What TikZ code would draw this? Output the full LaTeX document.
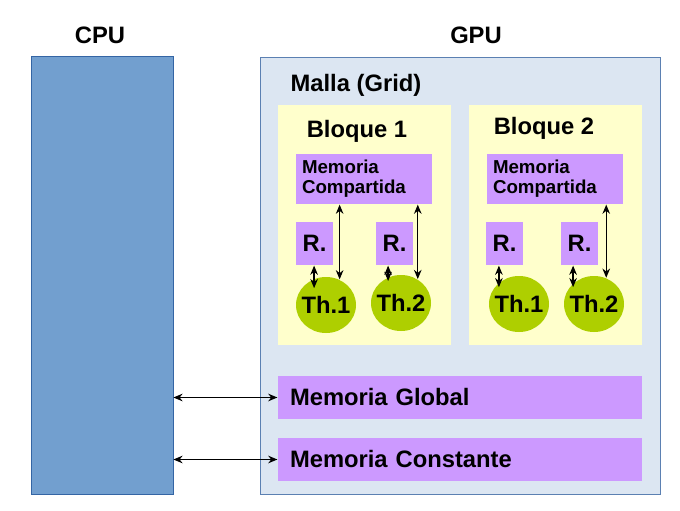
\documentclass[tikz,border=0pt]{standalone}
\usepackage{fontspec}
\setmainfont{Liberation Sans}
\usetikzlibrary{arrows.meta, positioning, calc, shapes.geometric}
\definecolor{ccpu}{HTML}{729FCF}
\definecolor{ccpuline}{HTML}{3465A4}
\definecolor{cgpu}{HTML}{DCE6F2}
\definecolor{cgpuline}{HTML}{5B80B2}
\definecolor{cyellow}{HTML}{FFFFCC}
\definecolor{cpurple}{HTML}{CC99FF}
\definecolor{cgreen}{HTML}{AECF00}
\tikzset{
  every picture/.style={line width=0.9pt},
  every node/.style={font=\bfseries\fontsize{16.9}{19}\selectfont},
  title/.style={inner sep=0pt},
  block/.style={fill=cyellow, minimum width=4.325cm, minimum height=6cm},
  shared/.style={fill=cpurple, minimum width=3.4cm, minimum height=1.25cm, text width=3.1cm,
    inner xsep=0.15cm, align=left, font=\bfseries\fontsize{13.3}{14.2}\selectfont},
  reg/.style={fill=cpurple, minimum width=0.925cm, minimum height=1.075cm, inner sep=0pt},
  thread/.style={ellipse, fill=cgreen, minimum width=1.5cm, minimum height=1.4cm, inner xsep=-0.1cm, inner ysep=0pt},
  memory/.style={fill=cpurple, minimum width=9.1cm, minimum height=1.075cm, text width=8.5cm,
    inner xsep=0.3cm, align=left},
  link/.style={{Stealth[length=2.3mm, width=1.9mm]}-{Stealth[length=2.3mm, width=1.9mm]}, draw=black},
}

\begin{document}
\begin{tikzpicture}
  \useasboundingbox (0,0) rectangle (17,12.75);
  % host and device
  \node[fill=ccpu, draw=ccpuline, line width=0.6pt, minimum width=3.55cm, minimum height=10.95cm] (cpu) at (2.55,5.875) {};
  \node[title] (cpulabel) at (2.5,11.875) {CPU};
  \node[fill=cgpu, draw=cgpuline, line width=0.6pt, minimum width=10cm, minimum height=10.925cm] (gpu) at (11.5,5.8625) {};
  \node[title] (gpulabel) at (11.9,11.875) {GPU};
  \node[title, anchor=west] (grid) at (7.25,10.625) {Malla (Grid)};
  % blocks
  \node[block] (b1) at (9.1125,7.125) {};
  \node[block] (b2) at (13.8875,7.125) {};
  \node[title] (b1label) at (8.925,9.475) {Bloque 1};
  \node[title] (b2label) at (13.6,9.55) {Bloque 2};
  \node[shared] (mc1) at (9.1,8.275) {Memoria\\Compartida};
  \node[shared] (mc2) at (13.875,8.275) {Memoria\\Compartida};
  \node[reg] (r11) at (7.8625,6.6625) {R.};
  \node[reg] (r12) at (9.8625,6.6625) {R.};
  \node[reg] (r21) at (12.6125,6.6625) {R.};
  \node[reg] (r22) at (14.4875,6.6625) {R.};
  \node[thread] (th11) at (8.15,5.125) {Th.1};
  \node[thread] (th12) at (10.025,5.175) {Th.2};
  \node[thread] (th21) at (12.975,5.15) {Th.1};
  \node[thread] (th22) at (14.85,5.15) {Th.2};
  % global memories
  \node[memory] (glob) at (11.5,2.8125) {Memoria Global};
  \node[memory] (const) at (11.5,1.2625) {Memoria Constante};
  % registers <-> threads
  \draw[link, shorten >=0.42cm] ([xshift=-0.01cm]r11.south) -- ([xshift=-0.01cm]r11.south |- th11.center);
  \draw[link, shorten >=0.55cm] ([xshift=-0.16cm]r12.south) -- ([xshift=-0.16cm]r12.south |- th12.center);
  \draw[link, shorten >=0.42cm] ([xshift=-0.14cm]r21.south) -- ([xshift=-0.14cm]r21.south |- th21.center);
  \draw[link, shorten >=0.42cm] ([xshift=-0.16cm]r22.south) -- ([xshift=-0.16cm]r22.south |- th22.center);
  % shared memory <-> threads
  \draw[link] (th11.62 |- mc1.south) -- (th11.62);
  \draw[link] (th12.55 |- mc1.south) -- (th12.55);
  \draw[link] (th22.65 |- mc2.south) -- (th22.65);
  % host <-> device memory
  \draw[link] (cpu.east |- glob.west) -- (glob.west);
  \draw[link] (cpu.east |- const.west) -- (const.west);
\end{tikzpicture}
\end{document}
